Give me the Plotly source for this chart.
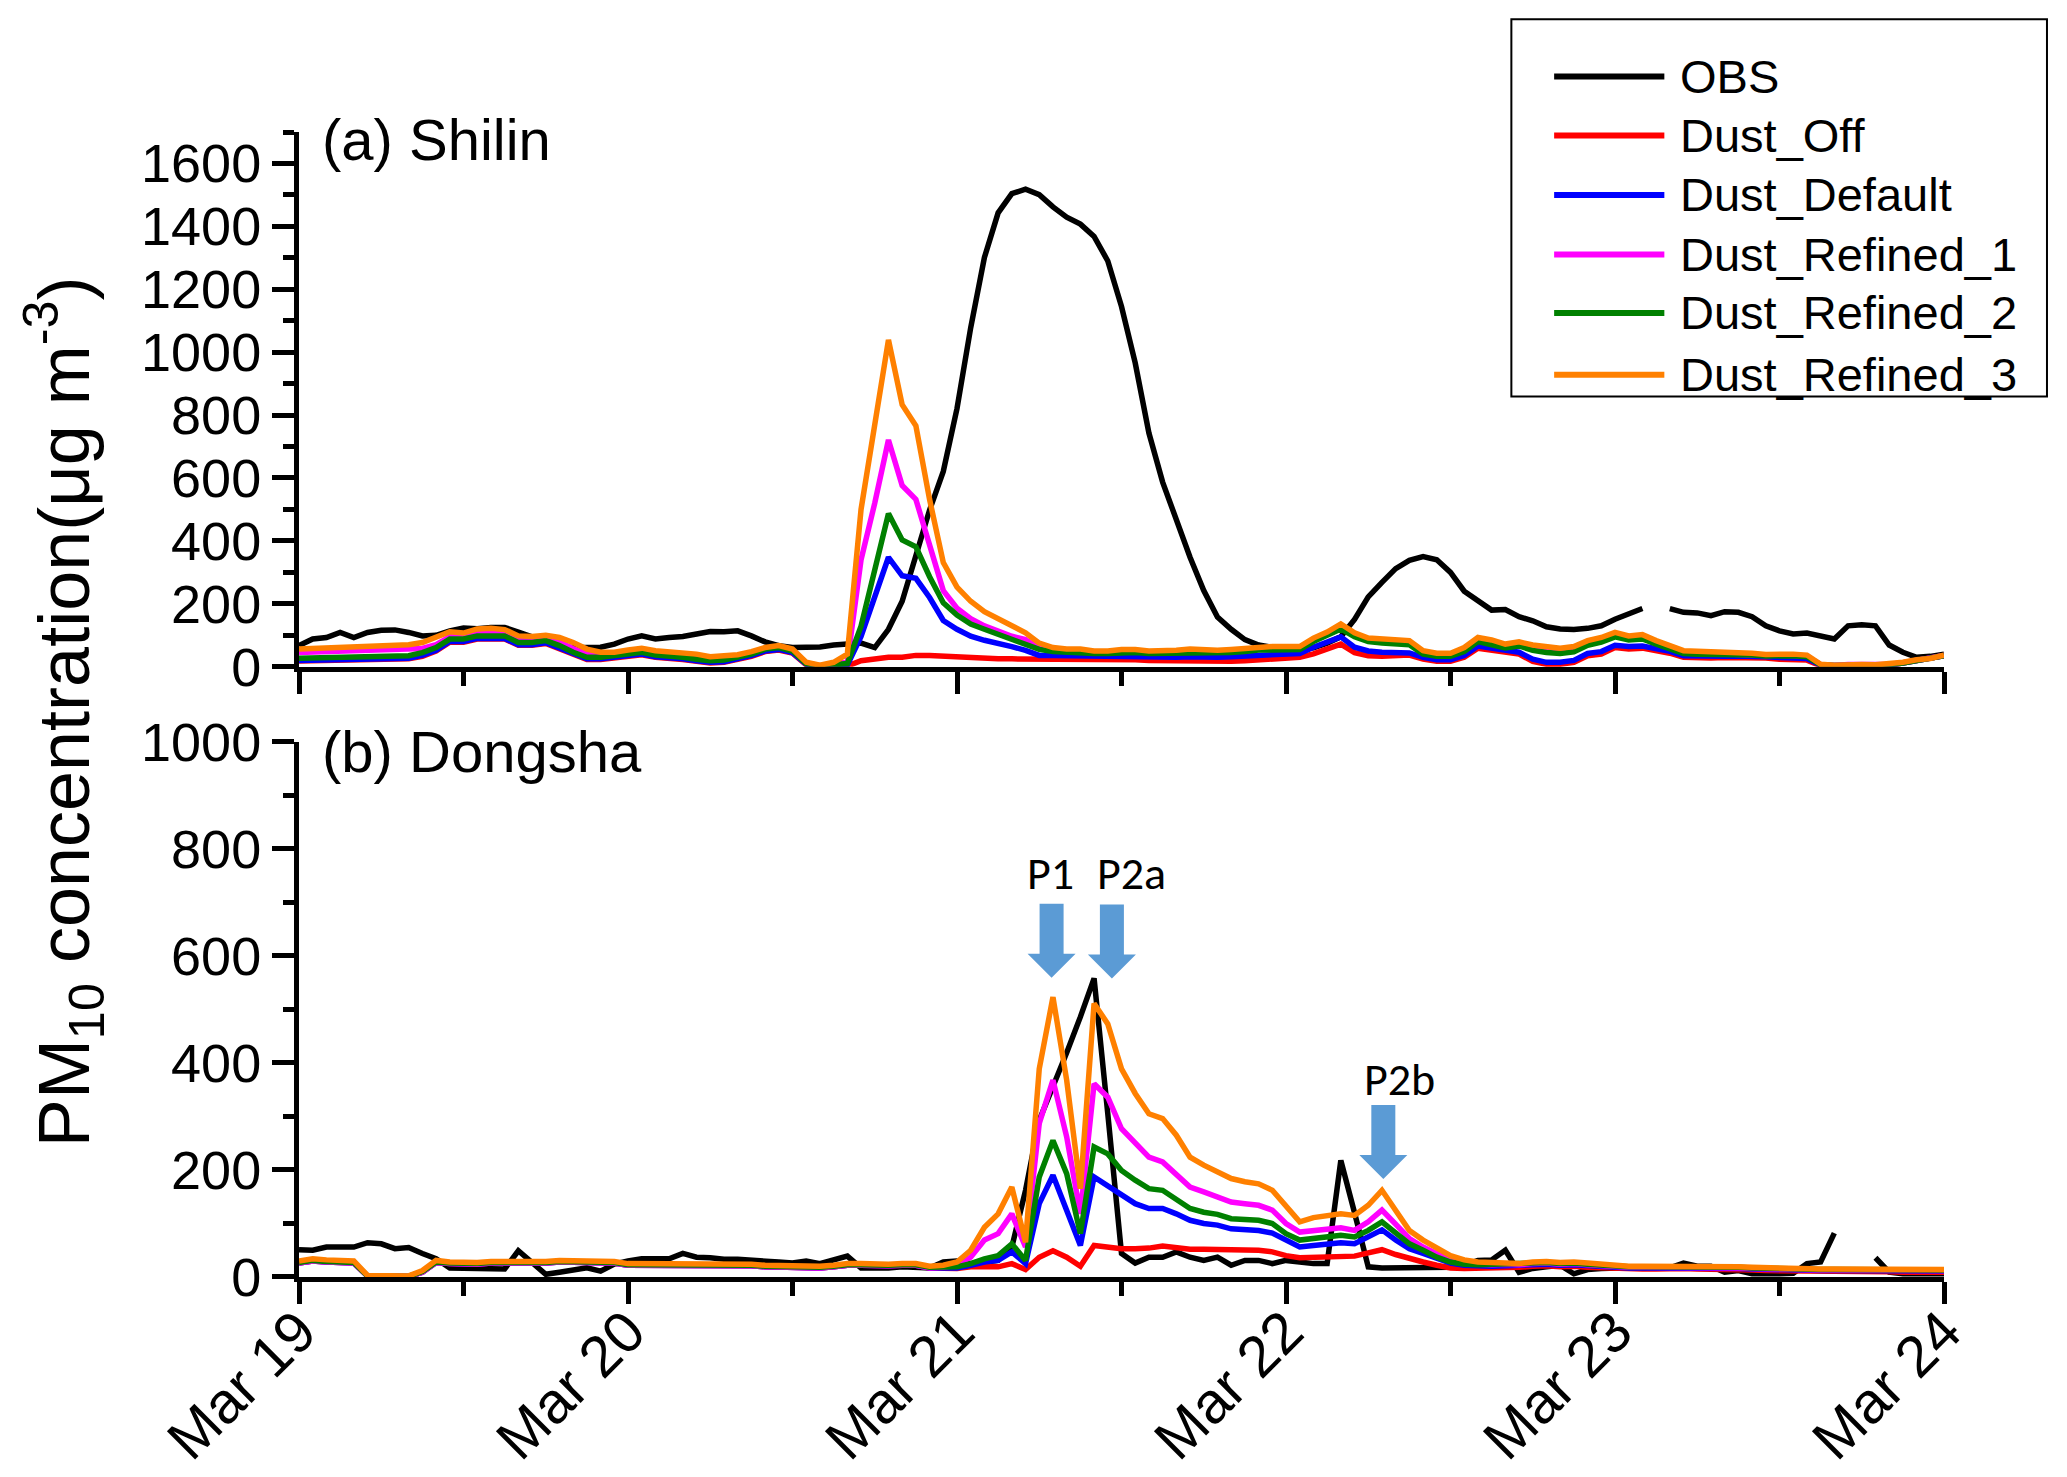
import pandas as pd
import plotly.graph_objects as go

# hourly time axis, Mar 19 00:00 .. Mar 24 00:00
START = pd.Timestamp("2010-03-19 00:00")
END = pd.Timestamp("2010-03-24 00:00")
times = pd.date_range(START, END, freq="h")

SERIES_NAMES = ["OBS", "Dust_Off", "Dust_Default", "Dust_Refined_1", "Dust_Refined_2", "Dust_Refined_3"]
COLORS = ["#000000", "#FF0000", "#0000FF", "#FF00FF", "#008000", "#FF8000"]

# ---------------- (a) Shilin ----------------
shilin_obs = [
    67, 88, 93, 109, 93, 109, 116, 117, 109, 98, 100, 114, 123, 121, 125, 125, 110, 95, 85, 65, 60, 60, 62, 72,
    88, 98, 88, 93, 96, 104, 112, 111, 114, 98, 79, 67, 61, 62, 63, 69, 72, 75, 61, 119, 208, 353, 498, 621,
    821, 1078, 1301, 1443, 1504, 1518, 1501, 1462, 1429, 1407, 1368, 1290, 1145, 966, 743, 587, 465, 348, 242, 158, 119, 86, 69, 60,
    55, 55, 60, 75, 95, 150, 222, 268, 312, 338, 350, 340, 300, 240, 210, 180, 182, 159, 146, 127, 120, 118, 122, 130,
    151, 169, 185, None, 185, 173, 171, 162, 175, 173, 159, 130, 114, 104, 107, 98, 88, 130, 133, 130, 69, 46, 30, 33, 40,
]
shilin_off = [
    18, 19, 20, 21, 22, 23, 23, 24, 25, 33, 50, 78, 78, 88, 88, 88, 68, 68, 74, 58, 38, 23, 23, 28,
    33, 38, 30, 28, 23, 17, 12, 14, 23, 33, 48, 53, 43, 6, 0, 1, 2, 19, 25, 30, 30, 36, 36, 33,
    33, 30, 28, 25, 25, 25, 25, 25, 25, 24, 23, 23, 22, 22, 20, 19, 17, 17, 17, 17, 17, 19, 21, 22,
    25, 30, 41, 55, 72, 45, 35, 33, 35, 37, 24, 17, 17, 30, 59, 54, 46, 40, 17, 8, 8, 14, 35, 40,
    61, 56, 59, 51, 43, 30, 28, 28, 29, 30, 30, 28, 24, 24, 21, 3, 2, 3, 3, 3, 4, 12, 20, 24, 35,
]
shilin_default = [
    20, 21, 22, 23, 24, 25, 25, 26, 27, 36, 52, 80, 80, 90, 90, 90, 70, 70, 76, 60, 40, 25, 25, 30,
    35, 40, 32, 30, 25, 19, 14, 16, 25, 35, 50, 55, 45, 8, 1, 3, 5, 96, 222, 348, 289, 281, 220, 147,
    119, 97, 84, 75, 64, 52, 36, 36, 35, 35, 33, 33, 34, 34, 32, 32, 30, 32, 30, 30, 32, 34, 38, 38,
    38, 42, 62, 78, 95, 62, 50, 46, 45, 44, 30, 22, 22, 36, 66, 60, 52, 46, 24, 14, 14, 20, 42, 48,
    68, 64, 66, 58, 49, 35, 33, 33, 33, 34, 34, 32, 29, 29, 26, 5, 3, 4, 4, 4, 5, 12, 20, 24, 35,
]
shilin_r1 = [
    45, 46, 47, 48, 49, 50, 51, 52, 53, 58, 70, 95, 95, 105, 106, 104, 85, 84, 90, 78, 58, 40, 36, 40,
    46, 52, 44, 40, 37, 31, 25, 27, 34, 44, 58, 64, 53, 12, 3, 8, 15, 340, 520, 721, 576, 532, 387, 242,
    186, 153, 130, 114, 97, 86, 58, 52, 49, 49, 45, 45, 49, 49, 45, 45, 46, 50, 46, 46, 49, 52, 58, 58,
    58, 60, 86, 104, 128, 100, 84, 80, 77, 75, 45, 37, 37, 54, 86, 78, 65, 72, 60, 52, 49, 55, 75, 85,
    101, 91, 95, 77, 61, 46, 44, 43, 43, 42, 40, 36, 37, 37, 34, 7, 4, 7, 6, 5, 7, 13, 21, 25, 36,
]
shilin_r2 = [
    27, 28, 29, 30, 31, 32, 33, 34, 35, 45, 61, 88, 88, 98, 98, 98, 77, 77, 83, 67, 46, 30, 30, 35,
    40, 46, 37, 35, 30, 24, 19, 21, 30, 40, 56, 61, 50, 10, 2, 5, 10, 129, 307, 487, 403, 381, 286, 203,
    164, 136, 119, 103, 91, 75, 55, 48, 45, 45, 42, 42, 45, 45, 42, 42, 43, 46, 43, 42, 45, 48, 53, 53,
    53, 55, 80, 98, 120, 95, 80, 75, 72, 70, 40, 33, 33, 48, 80, 72, 60, 66, 52, 45, 42, 47, 68, 78,
    95, 85, 88, 72, 57, 42, 40, 40, 40, 39, 37, 34, 35, 35, 32, 6, 4, 6, 5, 5, 6, 12, 20, 24, 35,
]
shilin_r3 = [
    56, 58, 60, 62, 64, 66, 68, 69, 70, 77, 93, 111, 107, 120, 122, 118, 98, 96, 100, 93, 77, 56, 46, 46,
    53, 59, 51, 48, 46, 40, 32, 33, 38, 48, 61, 67, 56, 14, 5, 14, 40, 500, 770, 1039, 833, 766, 532, 331,
    253, 208, 175, 153, 130, 108, 75, 61, 56, 56, 50, 50, 55, 55, 50, 50, 52, 56, 52, 52, 55, 58, 64, 64,
    64, 64, 91, 110, 136, 108, 91, 88, 86, 83, 51, 43, 43, 61, 93, 85, 72, 79, 69, 64, 59, 64, 83, 93,
    109, 98, 102, 83, 67, 51, 49, 48, 48, 46, 43, 39, 40, 40, 37, 8, 5, 8, 7, 6, 8, 14, 22, 26, 37,
]

# ---------------- (b) Dongsha ----------------
dongsha_obs = [
    51, 50, 56, 57, 56, 64, 62, 53, 55, 44, 34, 17, 16, 15, 15, 15, 49, 28, 5, 9, 14, 17, 11, 24,
    30, 34, 34, 34, 44, 37, 36, 33, 33, 32, 30, 28, 26, 30, 25, 32, 39, 17, 16, 17, 19, 17, 17, 28,
    30, 25, 28, 31, 56, 162, 293, 353, 419, 486, 558, 305, 44, 26, 37, 37, 47, 37, 31, 37, 22, 31, 31, 25,
    31, 28, 25, 25, 218, 120, 19, 17, 17, 17, 17, 17, 18, 22, 31, 32, 50, 9, 16, 19, 22, 6, 14, 16,
    17, 17, 17, 19, 17, 26, 20, 20, 9, 12, 6, 5, 6, 7, 25, 28, 82, None, None, 36, 9, 6, 6, 6, 6,
]
dongsha_off = [
    26, 30, 28, 27, 26, 2, 1, 1, 1, 9, 27, 25, 24, 24, 26, 26, 25, 26, 26, 28, 28, 28, 28, 26,
    22, 22, 22, 22, 22, 21, 20, 20, 21, 21, 19, 18, 17, 16, 17, 19, 22, 22, 21, 21, 22, 22, 17, 16,
    16, 19, 19, 19, 25, 14, 37, 49, 37, 20, 59, 56, 53, 53, 54, 58, 54, 52, 52, 52, 51, 50, 50, 47,
    40, 36, 37, 39, 40, 39, 45, 51, 42, 34, 28, 22, 17, 16, 16, 17, 18, 18, 20, 21, 19, 20, 18, 17,
    15, 15, 15, 15, 16, 16, 15, 15, 14, 14, 13, 12, 12, 12, 11, 10, 10, 10, 10, 10, 10, 9, 9, 9, 9,
]
dongsha_default = [
    26, 30, 28, 27, 26, 2, 1, 1, 1, 9, 27, 25, 24, 24, 26, 26, 25, 26, 26, 28, 28, 28, 28, 26,
    22, 22, 22, 22, 22, 21, 20, 20, 21, 21, 19, 18, 17, 16, 17, 19, 22, 22, 21, 21, 22, 22, 17, 17,
    17, 22, 28, 31, 47, 25, 137, 190, 125, 59, 187, 171, 153, 137, 128, 128, 118, 106, 100, 97, 90, 89, 87, 82,
    70, 56, 59, 61, 64, 62, 74, 88, 69, 53, 44, 34, 26, 22, 20, 20, 21, 21, 23, 24, 22, 23, 21, 19,
    17, 17, 17, 17, 18, 18, 17, 17, 16, 16, 15, 14, 14, 14, 13, 12, 12, 12, 12, 12, 12, 11, 11, 11, 11,
]
dongsha_r1 = [
    26, 30, 28, 27, 26, 2, 1, 1, 1, 9, 27, 25, 24, 24, 26, 26, 25, 26, 26, 28, 28, 28, 28, 26,
    22, 22, 22, 22, 22, 21, 20, 20, 21, 21, 19, 18, 17, 16, 17, 19, 22, 22, 21, 21, 22, 22, 17, 18,
    22, 37, 69, 81, 118, 56, 287, 368, 262, 118, 361, 336, 277, 249, 224, 215, 193, 168, 159, 150, 140, 137, 134, 125,
    100, 84, 87, 90, 92, 87, 103, 125, 97, 72, 56, 44, 31, 25, 23, 23, 24, 23, 25, 26, 24, 25, 23, 21,
    18, 18, 18, 18, 19, 19, 18, 18, 17, 17, 16, 15, 15, 15, 14, 13, 13, 13, 13, 13, 13, 12, 12, 12, 12,
]
dongsha_r2 = [
    27, 31, 29, 28, 27, 2, 1, 1, 1, 10, 28, 26, 25, 25, 27, 27, 26, 27, 27, 29, 29, 29, 29, 27,
    23, 23, 23, 23, 23, 22, 21, 21, 22, 22, 20, 19, 18, 17, 18, 20, 23, 23, 22, 22, 23, 23, 18, 19,
    19, 25, 34, 40, 62, 31, 187, 255, 193, 81, 243, 230, 199, 181, 165, 162, 146, 128, 121, 117, 109, 107, 106, 100,
    81, 69, 72, 75, 78, 75, 87, 103, 81, 62, 50, 37, 28, 24, 23, 24, 25, 24, 26, 27, 25, 26, 24, 22,
    19, 19, 19, 19, 20, 20, 19, 19, 18, 18, 17, 16, 16, 16, 15, 14, 14, 14, 14, 14, 14, 13, 13, 13, 13,
]
dongsha_r3 = [
    30, 34, 32, 31, 30, 3, 2, 2, 2, 12, 31, 28, 27, 27, 29, 29, 28, 29, 29, 31, 31, 31, 31, 29,
    25, 25, 25, 25, 25, 24, 23, 23, 24, 24, 22, 21, 20, 19, 20, 22, 25, 25, 24, 24, 25, 25, 20, 22,
    28, 50, 93, 118, 168, 65, 389, 523, 368, 165, 511, 473, 389, 343, 305, 296, 265, 224, 209, 196, 184, 178, 174, 162,
    131, 103, 111, 115, 118, 115, 134, 162, 125, 87, 69, 53, 40, 32, 28, 27, 27, 25, 28, 29, 27, 28, 26, 24,
    20, 20, 20, 20, 21, 21, 20, 20, 19, 19, 18, 17, 17, 17, 16, 15, 15, 15, 15, 15, 15, 14, 14, 14, 14,
]

shilin = [shilin_obs, shilin_off, shilin_default, shilin_r1, shilin_r2, shilin_r3]
dongsha = [dongsha_obs, dongsha_off, dongsha_default, dongsha_r1, dongsha_r2, dongsha_r3]

# arrow markers on panel (b): tip position (hours after Mar 19 00:00, value) and label position
ARROW_LABELS = ["P1", "P2a", "P2b"]
ARROW_TIP_HOURS = [54.9, 59.3, 79.1]
ARROW_TIP_VALUES = [559, 558, 183]
LABEL_HOURS = [54.8, 60.7, 80.3]
LABEL_VALUES = [754, 754, 370]
ARROW_COLOR = "#5B9BD5"

FONT = "Arial, Liberation Sans, sans-serif"
AXIS_W = 5
LINE_W = 5.5

fig = go.Figure()

for name, color, ya, yb in zip(SERIES_NAMES, COLORS, shilin, dongsha):
    fig.add_trace(go.Scatter(x=times, y=ya, mode="lines", name=name,
                             line=dict(color=color, width=LINE_W), xaxis="x", yaxis="y"))
    fig.add_trace(go.Scatter(x=times, y=yb, mode="lines", name=name, showlegend=False,
                             line=dict(color=color, width=LINE_W), xaxis="x2", yaxis="y2"))

xcommon = dict(
    type="date", range=[START, END], showline=True, linecolor="black", linewidth=AXIS_W,
    ticks="outside", ticklen=22, tickwidth=AXIS_W, tickcolor="black",
    tick0=START, dtick=86400000, showgrid=False, zeroline=False, automargin=False,
    minor=dict(dtick=43200000, ticks="outside", ticklen=14, tickwidth=AXIS_W, tickcolor="black"),
    tickfont=dict(family=FONT, size=58, color="black"),
)
ycommon = dict(
    showline=True, linecolor="black", linewidth=AXIS_W,
    ticks="outside", ticklen=22, tickwidth=AXIS_W, tickcolor="black",
    tick0=0, dtick=200, showgrid=False, zeroline=False, automargin=False,
    minor=dict(dtick=100, ticks="outside", ticklen=11, tickwidth=AXIS_W, tickcolor="black"),
    tickfont=dict(family=FONT, size=54, color="black"),
)

fig.update_layout(
    width=2067, height=1477,
    margin=dict(l=291, r=131, t=124, b=208),
    paper_bgcolor="white", plot_bgcolor="white",
    showlegend=False,
    xaxis=dict(xcommon, domain=[0, 1], anchor="y", showticklabels=False),
    yaxis=dict(ycommon, domain=[0.533, 1], range=[0, 1700]),
    xaxis2=dict(xcommon, domain=[0, 1], anchor="y2", matches="x",
                tickformat="%b %d", tickangle=-45, ticklabelstandoff=-30),
    yaxis2=dict(ycommon, domain=[0, 0.4674], range=[0, 1000]),
)

# y-axis title shared by both panels
fig.add_annotation(
    text="PM<sub>10</sub> concentration(\u03bcg m<sup>-3</sup>)",
    xref="paper", yref="paper", x=-0.143, y=0.494, textangle=-90,
    xanchor="center", yanchor="middle", showarrow=False,
    font=dict(family=FONT, size=72, color="black"),
)

# panel labels
for txt, yp in [("(a) Shilin", 0.9935), ("(b) Dongsha", 0.459)]:
    fig.add_annotation(text=txt, xref="paper", yref="paper", x=0.0125, y=yp,
                       xanchor="left", yanchor="middle", showarrow=False,
                       font=dict(family=FONT, size=58, color="black"))

# block arrows and their labels on panel (b)
arrow_path = "M0,0 L-24,24 L-12,24 L-12,74 L12,74 L12,24 L24,24 Z"
for lab, th, tv, lh, lv in zip(ARROW_LABELS, ARROW_TIP_HOURS, ARROW_TIP_VALUES, LABEL_HOURS, LABEL_VALUES):
    fig.add_shape(type="path", xref="x2", yref="y2",
                  xsizemode="pixel", ysizemode="pixel",
                  xanchor=START + pd.Timedelta(hours=th), yanchor=tv,
                  path=arrow_path, fillcolor=ARROW_COLOR, line=dict(width=0))
    fig.add_annotation(text=lab, xref="x2", yref="y2",
                       x=START + pd.Timedelta(hours=lh), y=lv,
                       xanchor="center", yanchor="middle", showarrow=False,
                       font=dict(family="Carlito, Calibri, Open Sans, sans-serif", size=46, color="black"))

# legend box drawn by hand (long line samples like the original)
fig.add_shape(type="rect", xref="paper", yref="paper", x0=0.737, x1=1.0626, y0=0.769, y1=1.0985,
              line=dict(color="black", width=2), fillcolor="white", layer="above")
legend_rows = [1.0485, 0.997, 0.945, 0.893, 0.842, 0.788]
for name, color, yl in zip(SERIES_NAMES, COLORS, legend_rows):
    fig.add_shape(type="line", xref="paper", yref="paper", x0=0.763, x1=0.830, y0=yl, y1=yl,
                  line=dict(color=color, width=6), layer="above")
    fig.add_annotation(text=name, xref="paper", yref="paper", x=0.838, y=yl,
                       xanchor="left", yanchor="middle", showarrow=False,
                       font=dict(family=FONT, size=47, color="black"))

fig.write_html("out.html")
